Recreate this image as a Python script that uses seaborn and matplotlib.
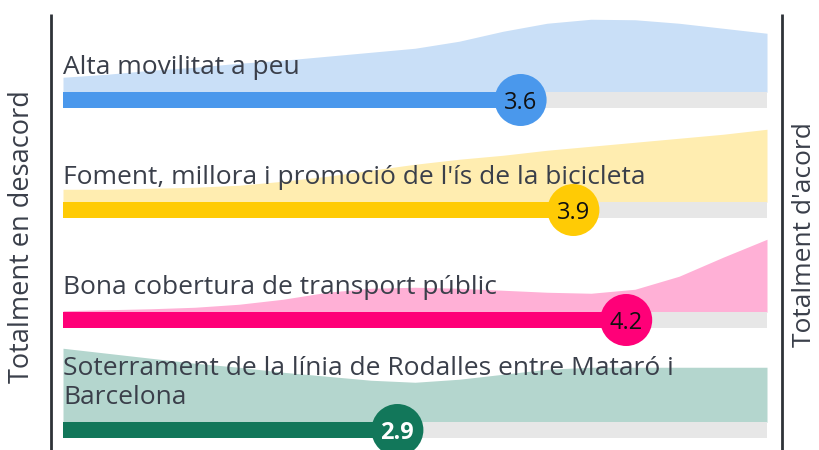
import numpy as np
import matplotlib
matplotlib.use("Agg")
import matplotlib.pyplot as plt
import matplotlib.transforms as mtransforms
import seaborn as sns

# Survey items (1 = totalment en desacord, 5 = totalment d'acord)
labels = [
    "Alta movilitat a peu",
    "Foment, millora i promoció de l'ís de la bicicleta",
    "Bona cobertura de transport públic",
    "Soterrament de la línia de Rodalles entre Mataró i\nBarcelona",
]
means = [3.6, 3.9, 4.2, 2.9]
mean_labels = ["3.6", "3.9", "4.2", "2.9"]

bar_colors = ["#4A98EC", "#FFCB05", "#FF0078", "#12775A"]
area_colors = ["#C9DFF7", "#FFEDB0", "#FFB0D6", "#B4D6CE"]
value_text_colors = ["#111111", "#111111", "#111111", "#FFFFFF"]

# Response distribution (relative density) sampled along the 1-5 scale
scale_points = [1.0, 1.25, 1.5, 1.75, 2.0, 2.25, 2.5, 2.75, 3.0,
                3.25, 3.5, 3.75, 4.0, 4.25, 4.5, 4.75, 5.0]
density_walk = [15, 18, 22, 25, 29, 32, 36, 40, 44, 51, 61, 69, 73, 72.5, 69, 64, 59]
density_bike = [13, 13, 14, 15, 17, 21, 26, 32, 38, 43, 47, 52, 56, 60, 64, 68, 73]
density_transit = [1.5, 2.5, 3.5, 5, 8, 13, 20, 24, 25, 24, 22, 20, 19, 23, 36, 55, 73]
density_rail = [74, 69, 64, 59, 55, 50, 46, 42, 40, 43, 48, 53, 55, 55, 55, 55, 55]
densities = [density_walk, density_bike, density_transit, density_rail]

left_label = "Totalment en desacord"
right_label = "Totalment d'acord"

sns.set_theme(style="white")
plt.rcParams["font.family"] = ["Open Sans", "DejaVu Sans"]

W, H, DPI = 820, 450, 100
fig = plt.figure(figsize=(W / DPI, H / DPI), dpi=DPI)
ax = fig.add_axes([0, 0, 1, 1])

# pixel-based layout: scale value 1 -> x=63px, 5 -> x=767px; rows every 110px
x_left_px, x_right_px = 63, 767
px_per_unit = (x_right_px - x_left_px) / 4.0
row_px = 110.0
first_row_px = 100.0
ax.set_xlim(1 - x_left_px / px_per_unit, 1 + (W - x_left_px) / px_per_unit)
ax.set_ylim((H - first_row_px) / row_px, -first_row_px / row_px)
ax.axis("off")

bar_h = 15.5 / row_px
area_scale = 1.0 / row_px
text_color = "#3A3F4A"

xs = np.array(scale_points)
for i, lab in enumerate(labels):
    m = means[i]
    top = i - bar_h / 2
    dens = np.array(densities[i]) * area_scale
    ax.fill_between(xs, top, top - dens, color=area_colors[i], lw=0, zorder=1)
    # grey track then filled bar
    ax.barh(i, 4, left=1, height=bar_h, color="#E7E7E7", lw=0, zorder=2)
    ax.barh(i, m - 1, left=1, height=bar_h, color=bar_colors[i], lw=0, zorder=3)
    ax.text(1, top - 12 / row_px, lab, ha="left", va="bottom",
            fontsize=19, color=text_color, linespacing=1.25, zorder=5)

sns.scatterplot(x=means, y=list(range(len(means))), hue=list(range(len(means))),
                palette=bar_colors, s=(2 * 26 * 72 / DPI) ** 2, linewidth=0,
                legend=False, ax=ax, zorder=6)
for i, (m, mlab) in enumerate(zip(means, mean_labels)):
    ax.text(m, i, mlab, ha="center", va="center_baseline", fontsize=17,
            color=value_text_colors[i],
            fontweight="bold" if value_text_colors[i] == "#FFFFFF" else "normal",
            zorder=7)

# end-of-scale guides (pixel coordinates)
for xpx in (51, 782):
    ax.add_line(plt.Line2D([xpx, xpx], [0, H - 14], color="#2E3238", lw=2,
                           solid_capstyle="butt",
                           transform=mtransforms.IdentityTransform()))

fig.text(22 / W, 1 - 237 / H, left_label, rotation=90, ha="center", va="center",
         fontsize=19.5, color=text_color)
fig.text(805 / W, 1 - 235 / H, right_label, rotation=90, ha="center", va="center",
         fontsize=19, color=text_color)

fig.savefig("out.png", dpi=DPI)
